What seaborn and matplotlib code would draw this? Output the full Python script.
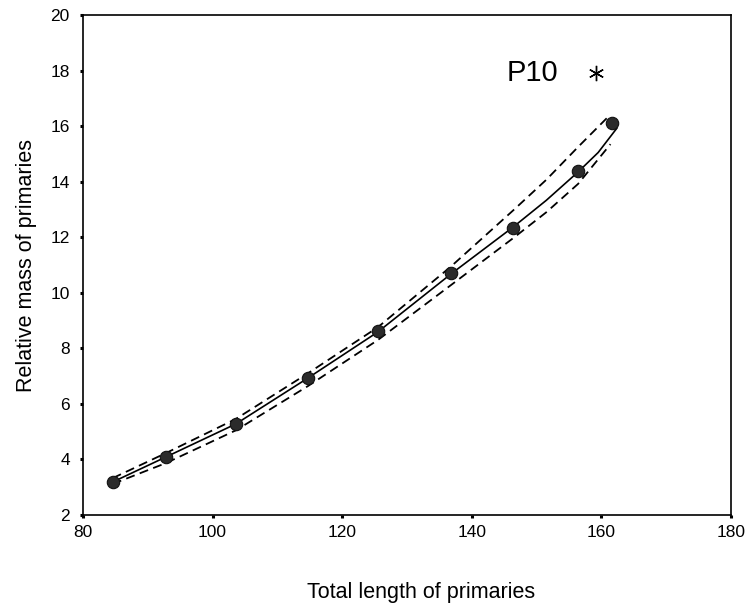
import matplotlib

matplotlib.use("Agg")
import matplotlib.pyplot as plt
import pandas as pd
import seaborn as sns


# observed points
length_obs = [84.6, 92.8, 103.6, 114.7, 125.5, 136.8, 146.4, 156.4, 161.6]
mass_obs = [3.19, 4.09, 5.28, 6.93, 8.61, 10.71, 12.35, 14.38, 16.11]

# fitted curve
fit_x = [84.6, 92.8, 103.6, 114.7, 125.5, 136.8, 146.4, 151.5, 156.4, 159.5, 162.4]
fit_y = [3.19, 4.09, 5.28, 6.93, 8.59, 10.68, 12.37, 13.33, 14.35, 15.05, 15.93]

# confidence band
band_x = [84.6, 92.8, 103.6, 114.7, 125.5, 136.8, 146.4, 151.5, 156.4, 161.4]
band_upper = [3.33, 4.23, 5.46, 7.10, 8.76, 10.95, 12.97, 14.07, 15.25, 16.42]
band_lower = [3.12, 3.87, 5.05, 6.64, 8.30, 10.28, 11.97, 12.90, 13.92, 15.35]

# outlier
outlier_x = [159.2]
outlier_y = [17.9]
outlier_label = "P10"

x_ticks = [80, 100, 120, 140, 160, 180]
y_ticks = [2, 4, 6, 8, 10, 12, 14, 16, 18, 20]


def main():
    sns.set_style("ticks")
    plt.rcParams["font.family"] = ["Liberation Sans", "DejaVu Sans"]
    plt.rcParams["text.color"] = "black"
    plt.rcParams["axes.labelcolor"] = "black"
    plt.rcParams["xtick.color"] = "black"
    plt.rcParams["ytick.color"] = "black"

    fig = plt.figure(figsize=(7.51, 6.10), dpi=100)
    ax = fig.add_axes([0.1105, 0.1557, 0.8629, 0.8197])

    obs = pd.DataFrame({"length": length_obs, "mass": mass_obs})
    fit = pd.DataFrame({"length": fit_x, "mass": fit_y})
    band = pd.DataFrame({"length": band_x, "upper": band_upper, "lower": band_lower})

    sns.lineplot(data=fit, x="length", y="mass", color="black", lw=1.2, ax=ax)
    for col in ["upper", "lower"]:
        sns.lineplot(
            data=band,
            x="length",
            y=col,
            color="black",
            lw=1.3,
            ax=ax,
        ).lines[-1].set_dashes((5, 3))

    sns.scatterplot(
        data=obs,
        x="length",
        y="mass",
        s=80,
        color="#2b2b2b",
        edgecolor="#111111",
        linewidth=0.8,
        zorder=5,
        ax=ax,
    )

    ax.plot(
        outlier_x,
        outlier_y,
        marker=(6, 2, 0),
        markersize=11,
        color="black",
        markeredgewidth=1.0,
        linestyle="none",
    )
    ax.text(
        149.3,
        outlier_y[0],
        outlier_label,
        fontsize=21,
        ha="center",
        va="center",
    )

    ax.set_xlim(80, 180)
    ax.set_ylim(2, 20)
    ax.set_xticks(x_ticks)
    ax.set_yticks(y_ticks)

    for spine in ax.spines.values():
        spine.set_linewidth(1.2)
        spine.set_color("black")

    ax.tick_params(
        axis="both",
        direction="out",
        length=2.5,
        width=2.2,
        color="black",
        labelsize=12.5,
    )
    ax.tick_params(axis="y", pad=7)
    ax.tick_params(axis="x", pad=5)

    ax.set_xlabel("Total length of primaries", fontsize=15.5, labelpad=30, x=0.522)
    ax.set_ylabel("Relative mass of primaries", fontsize=15.5, labelpad=10)

    fig.savefig("out.png", dpi=100)
    plt.close(fig)


if __name__ == "__main__":
    main()
